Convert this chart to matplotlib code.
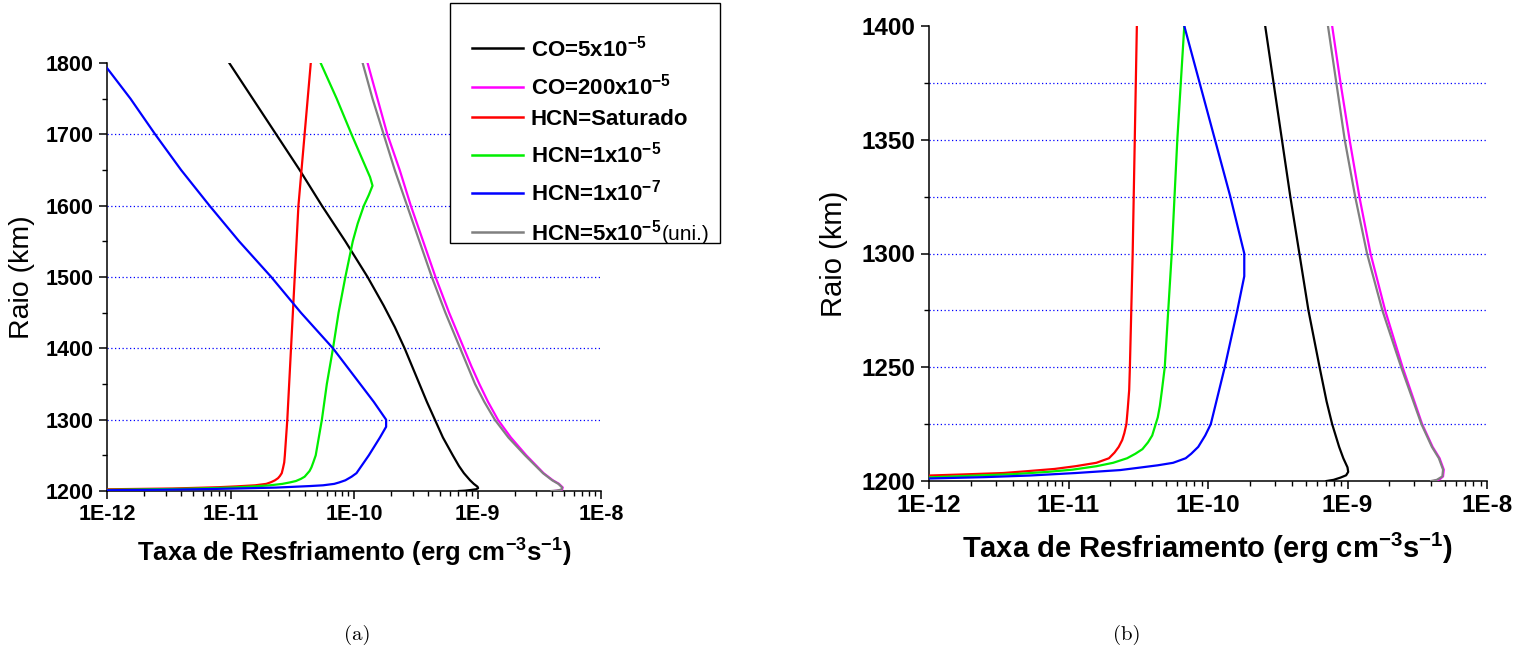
import numpy as np
import matplotlib
matplotlib.use('Agg')
import matplotlib.pyplot as plt
from matplotlib.lines import Line2D
from matplotlib.patches import Rectangle
from matplotlib.ticker import FixedLocator, FixedFormatter, LogLocator, NullFormatter

plt.rcParams['font.family'] = ['Liberation Sans', 'DejaVu Sans']
plt.rcParams['mathtext.fontset'] = 'custom'
plt.rcParams['mathtext.rm'] = 'Liberation Sans:bold'
plt.rcParams['mathtext.it'] = 'Liberation Sans:bold'
plt.rcParams['mathtext.bf'] = 'Liberation Sans:bold'

# dados (raio em km, log10 da taxa)
co5_r = [1200, 1200.5, 1201.5, 1202.5, 1204, 1206, 1210, 1215, 1225, 1235, 1250, 1275, 1300,
         1325, 1350, 1375, 1400, 1430, 1460, 1500, 1550, 1600, 1650, 1700, 1750, 1800]
co5_x = [-9.15, -9.10, -9.05, -9.01, -8.995, -9.0, -9.03, -9.06, -9.11, -9.15, -9.20, -9.28,
         -9.345, -9.41, -9.47, -9.53, -9.59, -9.67, -9.76, -9.89, -10.07, -10.26, -10.44,
         -10.63, -10.82, -11.01]

co200_r = [1200, 1200.7, 1202, 1205, 1210, 1215, 1225, 1250, 1275, 1300, 1325, 1350, 1375,
           1400, 1450, 1500, 1550, 1600, 1650, 1700, 1750, 1800]
co200_x = [-8.38, -8.34, -8.315, -8.31, -8.34, -8.39, -8.465, -8.605, -8.73, -8.835, -8.915,
           -8.985, -9.05, -9.11, -9.23, -9.34, -9.44, -9.54, -9.63, -9.73, -9.81, -9.89]

sat_r = [1202.4, 1202.9, 1203.5, 1204.3, 1205.3, 1206.5, 1208, 1210, 1212.5, 1215, 1218,
         1221, 1225, 1232, 1240, 1250, 1300, 1400, 1500, 1600, 1700, 1800]
sat_x = [-12.0, -11.75, -11.47, -11.3, -11.1, -10.95, -10.80, -10.71, -10.67, -10.64,
         -10.615, -10.60, -10.585, -10.575, -10.565, -10.56, -10.54, -10.51, -10.48, -10.45,
         -10.40, -10.35]

h5_r = [1201.6, 1202.3, 1203, 1204, 1205, 1206.5, 1208, 1210, 1212, 1214, 1217, 1220, 1224,
        1228, 1233, 1240, 1250, 1300, 1350, 1400, 1450, 1500, 1525, 1550, 1575, 1600, 1615,
        1628, 1640, 1700, 1750, 1800]
h5_x = [-12.0, -11.7, -11.4, -11.15, -10.97, -10.80, -10.68, -10.58, -10.52, -10.47, -10.43,
        -10.40, -10.38, -10.36, -10.345, -10.33, -10.31, -10.26, -10.22, -10.17, -10.125,
        -10.07, -10.04, -10.01, -9.97, -9.92, -9.88, -9.85, -9.87, -10.02, -10.14, -10.27]

h7_r = [1201.1, 1201.7, 1202.4, 1203.5, 1204.8, 1205.8, 1206.9, 1208, 1210, 1212, 1215,
        1220, 1225, 1250, 1275, 1290, 1300, 1325, 1350, 1375, 1400, 1450, 1500, 1550, 1600,
        1650, 1700, 1750, 1793]
h7_x = [-12.0, -11.6, -11.28, -10.95, -10.63, -10.5, -10.36, -10.25, -10.16, -10.12, -10.07,
        -10.02, -9.98, -9.88, -9.79, -9.74, -9.74, -9.84, -9.95, -10.06, -10.17, -10.43,
        -10.67, -10.93, -11.17, -11.40, -11.61, -11.81, -12.0]

uni_r = [1200, 1200.5, 1202, 1205, 1210, 1215, 1225, 1250, 1275, 1300, 1325, 1350, 1375,
         1400, 1450, 1500, 1550, 1600, 1650, 1700, 1750, 1800]
uni_x = [-8.40, -8.36, -8.32, -8.315, -8.345, -8.395, -8.47, -8.615, -8.75, -8.86, -8.945,
         -9.02, -9.08, -9.14, -9.26, -9.37, -9.47, -9.57, -9.67, -9.76, -9.85, -9.93]

labels = ['CO=5x10$^{-5}$', 'CO=200x10$^{-5}$', 'HCN=Saturado', 'HCN=1x10$^{-5}$',
          'HCN=1x10$^{-7}$', 'HCN=5x10$^{-5}$']
colors = ['black', '#ff00ff', 'red', '#00ee00', 'blue', 'gray']
series = [(co5_x, co5_r), (co200_x, co200_r), (sat_x, sat_r), (h5_x, h5_r),
          (h7_x, h7_r), (uni_x, uni_r)]
draw_order = [1, 5, 0, 2, 3, 4]

xticks = [1e-12, 1e-11, 1e-10, 1e-9, 1e-8]
xticklabels = ['1E-12', '1E-11', '1E-10', '1E-9', '1E-8']
yticks_a = [1200, 1300, 1400, 1500, 1600, 1700, 1800]
yticks_b = [1200, 1250, 1300, 1350, 1400]
grid_a = [1300, 1400, 1500, 1600, 1700]
grid_b = [1225, 1250, 1275, 1300, 1325, 1350, 1375]

W, H = 1518, 657
fig = plt.figure(figsize=(W / 100, H / 100), dpi=100)
ax1 = fig.add_axes([107/W, 1-491/H, (601-107)/W, (491-63)/H])
ax2 = fig.add_axes([929/W, 1-481/H, (1487-929)/W, (481-26)/H])


def style(ax, yticks, ylim, minor, grid, fs, xfs, yfs, xpad, ypad):
    for g in grid:
        ax.axhline(g, color='blue', lw=0.9, ls=(0, (1, 2)), zorder=1)
    for i in draw_order:
        x, r = series[i]
        ax.plot(10.0 ** np.array(x), r, color=colors[i], lw=1.6, zorder=3)
    ax.set_xscale('log')
    ax.set_xlim(1e-12, 1e-8)
    ax.set_ylim(*ylim)
    ax.xaxis.set_major_locator(FixedLocator(xticks))
    ax.xaxis.set_major_formatter(FixedFormatter(xticklabels))
    ax.xaxis.set_minor_locator(LogLocator(base=10, subs=np.arange(2, 10), numticks=20))
    ax.xaxis.set_minor_formatter(NullFormatter())
    ax.yaxis.set_major_locator(FixedLocator(yticks))
    ax.yaxis.set_minor_locator(FixedLocator(minor))
    for s in ['top', 'right']:
        ax.spines[s].set_visible(False)
    for s in ['left', 'bottom']:
        ax.spines[s].set_linewidth(1.1)
    ax.tick_params(which='major', direction='out', length=6, width=1.1, labelsize=fs)
    ax.tick_params(which='minor', direction='out', length=3.5, width=1.0)
    for t in ax.get_xticklabels() + ax.get_yticklabels():
        t.set_fontweight('bold')
    ax.set_xlabel('Taxa de Resfriamento (erg cm$^{-3}$s$^{-1}$)', fontsize=xfs,
                  fontweight='bold', labelpad=xpad)
    ax.set_ylabel('Raio (km)', fontsize=yfs, labelpad=ypad)


style(ax1, yticks_a, (1200, 1800), [1250, 1350, 1450, 1550, 1650, 1750], grid_a,
      15.5, 18.5, 20.5, 8, 8)
style(ax2, yticks_b, (1200, 1400), [1225, 1275, 1325, 1375], grid_b,
      17.5, 21, 21, 10, 10)

# legenda desenhada a mao (caixa sai fora do eixo)
fig.patches.append(Rectangle((450/W, 1-243/H), 270/W, 240/H, transform=fig.transFigure,
                             facecolor='white', edgecolor='black', lw=1.0, zorder=5))
row_y = [48, 87, 117, 155, 193, 232]
for i, y in enumerate(row_y):
    fig.lines.append(Line2D([472/W, 523/W], [1-y/H, 1-y/H], transform=fig.transFigure,
                            color=colors[i], lw=1.8, zorder=6))
    t = fig.text(531/W, 1-(y+8)/H, labels[i], fontsize=16, fontweight='bold',
                 va='baseline', ha='left', zorder=6)
fig.canvas.draw()
bb = t.get_window_extent()
fig.text(bb.x1 / W, 1-(row_y[-1]+8)/H, '(uni.)', fontsize=15, va='baseline',
         ha='left', zorder=6)

fig.text(357/W, 1-635/H, '(a)', family='cmr10', fontsize=15, ha='center', va='center')
fig.text(1127/W, 1-635/H, '(b)', family='cmr10', fontsize=15, ha='center', va='center')

fig.savefig('out.png', dpi=100)
